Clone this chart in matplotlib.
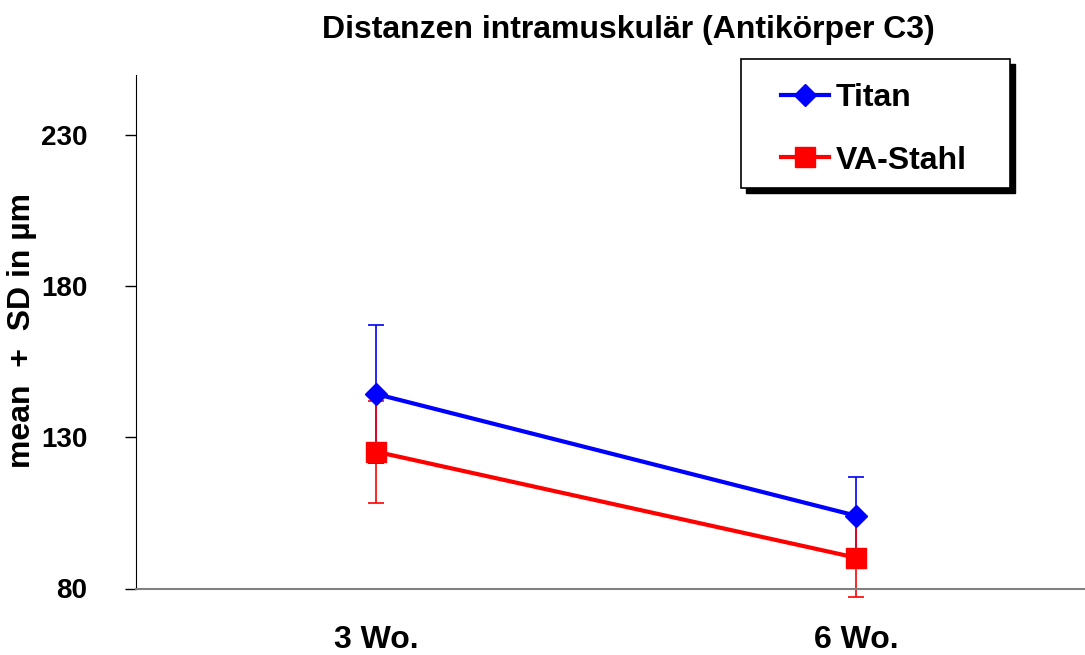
import matplotlib
matplotlib.use("Agg")
import matplotlib.pyplot as plt
from matplotlib.patches import Rectangle

plt.rcParams['font.family'] = ['Liberation Sans', 'DejaVu Sans']
plt.rcParams['font.weight'] = 'bold'

weeks = ['3 Wo.', '6 Wo.']
titan_mean = [144.4, 104.1]
titan_sd = [22.9, 12.8]
stahl_mean = [125.3, 90.2]
stahl_sd = [16.9, 12.9]

W, H = 1085, 655
fig = plt.figure(figsize=(W/100, H/100), dpi=100)
ax = fig.add_axes([136/W, 1-588.5/H, 949/W, 513.5/H])

x = list(range(len(weeks)))

# Fehlerbalken zuerst, dann Linien mit Markern
ax.errorbar(x, titan_mean, yerr=titan_sd, fmt='none', ecolor='#0000ff',
            elinewidth=1.2, capsize=5.5, capthick=1.2, zorder=2, clip_on=False)
ax.errorbar(x, stahl_mean, yerr=stahl_sd, fmt='none', ecolor='#ff0000',
            elinewidth=1.2, capsize=5.5, capthick=1.2, zorder=2.5, clip_on=False)
ax.plot(x, titan_mean, color='#0000ff', lw=3.0, marker='D', ms=11.5,
        label='Titan', zorder=3, clip_on=False)
ax.plot(x, stahl_mean, color='#ff0000', lw=3.0, marker='s', ms=14,
        label='VA-Stahl', zorder=3.5, clip_on=False)

ax.set_xlim(-0.5, -0.5 + 949/480)
ax.set_ylim(80, 250)
ax.set_yticks([80, 130, 180, 230])
ax.set_xticks(x)
ax.set_xticklabels(weeks, fontsize=23, fontweight='bold')
ax.tick_params(axis='y', labelsize=20, length=8, width=1, pad=27, direction='out')
ax.tick_params(axis='x', length=0, pad=26.5)

ax.spines['top'].set_visible(False)
ax.spines['right'].set_visible(False)
ax.spines['left'].set_color('black')
ax.spines['bottom'].set_color('#808080')
ax.spines['bottom'].set_linewidth(1.5)

fig.text(628/W, 1-30/H, 'Distanzen intramuskulär (Antikörper C3)',
         ha='center', va='center', fontsize=23, fontweight='bold')
fig.text(22/W, 1-331/H, 'mean  +  SD in µm', rotation=90,
         ha='center', va='center', fontsize=23, fontweight='bold')

# Legendenrahmen mit schwarzem Schatten
bx0, by0, bx1, by1 = 741, 59, 1010, 188
ax.add_patch(Rectangle((bx0/W + 5/W, 1-by1/H - 5/H), (bx1-bx0)/W, (by1-by0)/H,
                       transform=fig.transFigure, facecolor='black',
                       edgecolor='black', zorder=4, clip_on=False))
ax.add_patch(Rectangle((bx0/W, 1-by1/H), (bx1-bx0)/W, (by1-by0)/H,
                       transform=fig.transFigure, facecolor='white',
                       edgecolor='black', lw=1.2, zorder=4.1, clip_on=False))

leg = ax.legend(loc='upper left', bbox_to_anchor=(781/W, 1-83/H),
                bbox_transform=fig.transFigure, borderaxespad=0, borderpad=0,
                fontsize=23, frameon=False,
                handlelength=1.5, handletextpad=0.2, labelspacing=1.02)
leg.set_zorder(5)
for t in leg.get_texts():
    t.set_fontweight('bold')

fig.savefig('out.png', dpi=100)
